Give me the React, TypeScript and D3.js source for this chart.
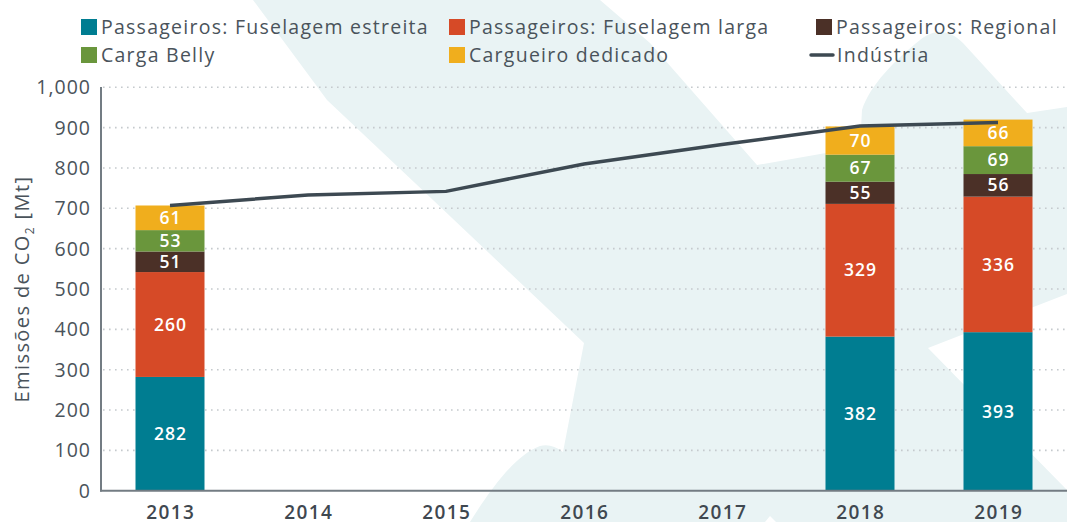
import React from "react";
import * as d3 from "d3";

const years = ["2013", "2014", "2015", "2016", "2017", "2018", "2019"];
const barYears = ["2013", "2018", "2019"];
const narrowBody = [282, 382, 393];
const wideBody = [260, 329, 336];
const regional = [51, 55, 56];
const belly = [53, 67, 69];
const freighter = [61, 70, 66];
const industry = [707, 733, 742, 810, 858, 904, 913];
const yTicks = [0, 100, 200, 300, 400, 500, 600, 700, 800, 900, 1000];

const seriesNames = [
  "Passageiros: Fuselagem estreita",
  "Passageiros: Fuselagem larga",
  "Passageiros: Regional",
  "Carga Belly",
  "Cargueiro dedicado",
];
const lineName = "Indústria";
const colors = ["#007d91", "#d64a27", "#4b3027", "#6a963c", "#f0ae1d"];
const lineColor = "#3d4952";
const textColor = "#4a535b";
const bgShape = "#e9f3f4";

const W = 1067;
const H = 522;
const FONT = "'Open Sans', sans-serif";

export default function App() {
  const x = d3.scaleBand<string>().domain(years).range([101, 1067]).paddingInner(0.5).paddingOuter(0.25);
  const y = d3.scaleLinear().domain([0, 1000]).range([490.7, 87.3]);

  const keys = ["a", "b", "c", "d", "e"];
  const table = barYears.map((yr, i) => ({
    year: yr,
    a: narrowBody[i],
    b: wideBody[i],
    c: regional[i],
    d: belly[i],
    e: freighter[i],
  }));
  const stacked = d3.stack<any>().keys(keys)(table);

  const line = d3
    .line<number>()
    .x((_, i) => (x(years[i]) as number) + x.bandwidth() / 2)
    .y((d) => y(d));

  const legendItems = [
    { label: seriesNames[0], color: colors[0], x: 81, y: 27, type: "rect" },
    { label: seriesNames[1], color: colors[1], x: 449, y: 27, type: "rect" },
    { label: seriesNames[2], color: colors[2], x: 816, y: 27, type: "rect" },
    { label: seriesNames[3], color: colors[3], x: 81, y: 55, type: "rect" },
    { label: seriesNames[4], color: colors[4], x: 449, y: 55, type: "rect" },
    { label: lineName, color: lineColor, x: 811, y: 55, type: "line" },
  ];

  return (
    <svg
      width={W}
      height={H}
      style={{ position: "absolute", left: 0, top: 0, display: "block", background: "#fff" }}
      fontFamily={FONT}
    >
      {/* watermark background */}
      <path
        d="M253,0 L327,100 L433,200 L584,343 L563,452 C555,446 548,444 540,446 C515,455 490,490 470,522 L1067,522 L1067,490 L928,348 L1067,294 L1067,107 L1027,113 L963,43 C950,30 935,28 920,40 C895,60 870,85 862,110 L860,147 L757,165 L650,43 L600,0 Z"
        fill={bgShape}
      />
      <path d="M765,522 L770,516 L776,522 Z" fill="#fff" />

      {/* grid */}
      {yTicks.slice(1).map((t) => (
        <line
          key={"g" + t}
          x1={103}
          x2={1067}
          y1={y(t)}
          y2={y(t)}
          stroke="#c5cacd"
          strokeWidth={1.6}
          strokeDasharray="1.6,4.4"
        />
      ))}

      {/* bars */}
      {stacked.map((s, si) =>
        s.map((d, i) => {
          const yr = table[i].year;
          const x0 = x(yr) as number;
          const top = y(d[1]);
          const bot = y(d[0]);
          return (
            <g key={si + "-" + i}>
              <rect x={x0} y={top} width={x.bandwidth()} height={bot - top} fill={colors[si]} />
              <text
                x={x0 + x.bandwidth() / 2 + 0.5}
                y={(top + bot) / 2}
                dy="0.35em"
                textAnchor="middle"
                fill="#fff"
                fontSize={17.5}
                fontWeight={600}
                letterSpacing={1}
              >
                {d[1] - d[0]}
              </text>
            </g>
          );
        })
      )}

      {/* line */}
      <path d={line(industry) || ""} fill="none" stroke={lineColor} strokeWidth={3.5} />

      {/* axes */}
      <line x1={101} x2={101} y1={87} y2={491.5} stroke="#737c83" strokeWidth={2} />
      <line x1={100} x2={1067} y1={490.7} y2={490.7} stroke="#737c83" strokeWidth={2} />

      {yTicks.map((t) => (
        <text
          key={"yt" + t}
          x={91}
          y={y(t)}
          dy="0.36em"
          textAnchor="end"
          fill={textColor}
          fontSize={19.5}
          letterSpacing={1}
        >
          {d3.format(",")(t)}
        </text>
      ))}
      {years.map((yr) => (
        <text
          key={"xt" + yr}
          x={(x(yr) as number) + x.bandwidth() / 2 + 0.7}
          y={519}
          textAnchor="middle"
          fill="#3f4850"
          fontSize={19}
          fontWeight={600}
          letterSpacing={1.4}
        >
          {yr}
        </text>
      ))}

      <text
        transform="translate(22,289) rotate(-90)"
        textAnchor="middle"
        dy="0.36em"
        fill={textColor}
        fontSize={20}
        fontWeight={500}
        letterSpacing={1.4}
      >
        Emissões de CO
        <tspan fontSize={12} dy="5">2</tspan>
        <tspan dy="-5"> [Mt]</tspan>
      </text>

      {/* legend */}
      {legendItems.map((it) => (
        <g key={it.label}>
          {it.type === "rect" ? (
            <rect x={it.x} y={it.y - 8} width={16} height={16} fill={it.color} />
          ) : (
            <line x1={it.x} x2={it.x + 22} y1={it.y} y2={it.y} stroke={it.color} strokeWidth={3.5} strokeLinecap="round" />
          )}
          <text
            x={it.type === "rect" ? it.x + 20 : it.x + 26}
            y={it.y}
            dy="0.36em"
            fill={textColor}
            fontSize={19.5}
            letterSpacing={1.25}
          >
            {it.label}
          </text>
        </g>
      ))}
    </svg>
  );
}
